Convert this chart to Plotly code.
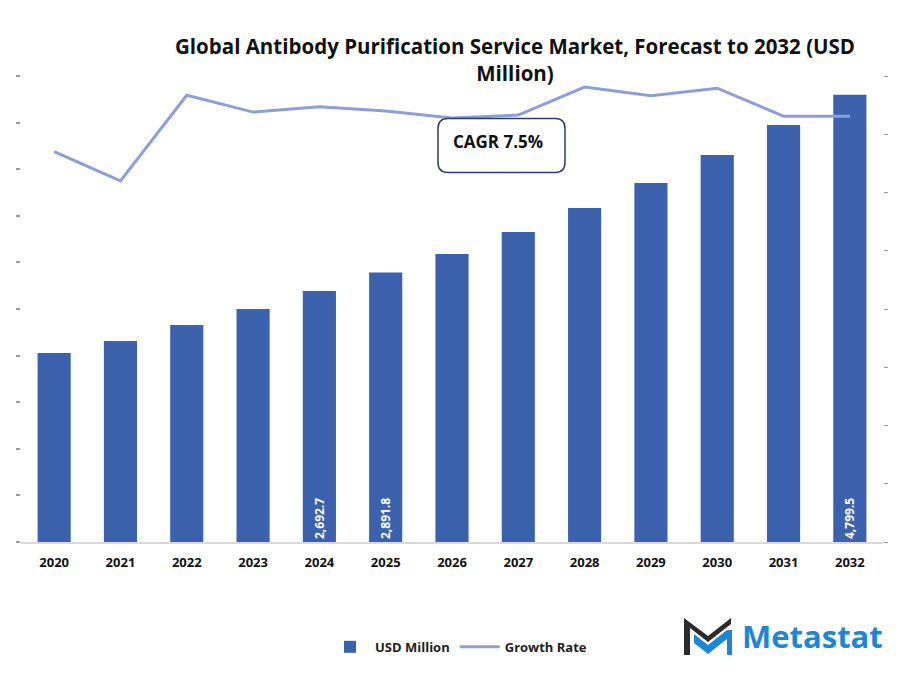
import plotly.graph_objects as go

years = ["2020", "2021", "2022", "2023", "2024", "2025", "2026", "2027", "2028", "2029", "2030", "2031", "2032"]
usd_million = [2028, 2157, 2328, 2500, 2692.7, 2891.8, 3090, 3326, 3584, 3852, 4153, 4474, 4799.5]
growth_rate = [0.0670, 0.0620, 0.0767, 0.0738, 0.0747, 0.0740, 0.0728, 0.0733, 0.0781, 0.0766, 0.0779, 0.0731, 0.0731]
label_years = ["2024", "2025", "2032"]

bar_text = [f"<b>{v:,.1f}</b>" if y in label_years else "" for y, v in zip(years, usd_million)]

W, H = 901, 682
L, R, T, B = 21, 18, 75.5, 140
pw, ph = W - L - R, H - T - B

def px(x):
    return (x - L) / pw

def py(y):
    return (H - B - y) / ph

fig = go.Figure()
fig.add_trace(go.Bar(
    x=years, y=usd_million, name="USD Million",
    marker=dict(color="#3c62ad", line=dict(width=0)),
    text=bar_text, textposition="inside", insidetextanchor="start",
    textangle=-90, textfont=dict(color="white", size=12, family="Open Sans"),
    width=0.5,
))
fig.add_trace(go.Scatter(
    x=years, y=growth_rate, name="Growth Rate", yaxis="y2",
    mode="lines", line=dict(color="#8e9fd8", width=3),
))

def rounded_rect(x0, y0, x1, y1, r):
    pts = f"M {px(x0+r)},{py(y0)} L {px(x1-r)},{py(y0)} Q {px(x1)},{py(y0)} {px(x1)},{py(y0+r)} " \
          f"L {px(x1)},{py(y1-r)} Q {px(x1)},{py(y1)} {px(x1-r)},{py(y1)} " \
          f"L {px(x0+r)},{py(y1)} Q {px(x0)},{py(y1)} {px(x0)},{py(y1-r)} " \
          f"L {px(x0)},{py(y0+r)} Q {px(x0)},{py(y0)} {px(x0+r)},{py(y0)} Z"
    return pts

shapes = [
    dict(type="path", xref="paper", yref="paper", path=rounded_rect(438, 118, 565, 172, 10),
         line=dict(color="#2e3d6b", width=1.5), fillcolor="white", layer="above"),
    dict(type="path", xref="paper", yref="paper",
         path=f"M {px(684)},{py(655)} L {px(684)},{py(618)} L {px(708)},{py(636)} L {px(731)},{py(618)} "
              f"L {px(731)},{py(624)} L {px(708)},{py(642)} L {px(690)},{py(628)} L {px(690)},{py(655)} Z",
         line=dict(width=0), fillcolor="#2b2b2b", layer="above"),
    dict(type="path", xref="paper", yref="paper",
         path=f"M {px(694)},{py(634)} L {px(708)},{py(645)} L {px(727)},{py(630)} L {px(732)},{py(630)} "
              f"L {px(732)},{py(655)} L {px(727)},{py(655)} L {px(727)},{py(639)} L {px(708)},{py(654)} L {px(694)},{py(643)} Z",
         line=dict(width=0), fillcolor="#1f86d3", layer="above"),
]

annotations = [
    dict(text="Global Antibody Purification Service Market, Forecast to 2032 (USD<br>Million)",
         x=px(515), y=py(59), xref="paper", yref="paper", showarrow=False,
         font=dict(family="Open Sans", size=20.5, color="#111111", weight="bold"),
         xanchor="center", yanchor="middle", align="center"),
    dict(text="<b>CAGR 7.5%</b>", x=px(498), y=py(141), xref="paper", yref="paper", showarrow=False,
         font=dict(family="Open Sans", size=17, color="#111111"), xanchor="center", yanchor="middle"),
    dict(text="<b>Metastat</b>", x=px(740), y=py(636), xref="paper", yref="paper", showarrow=False,
         font=dict(family="Open Sans", size=31, color="#1f86d3"), xanchor="left", yanchor="middle"),
]

fig.update_layout(
    width=W, height=H,
    margin=dict(l=L, r=R, t=T, b=B, pad=0),
    paper_bgcolor="white", plot_bgcolor="white",
    bargap=0.5,
    showlegend=True,
    legend=dict(orientation="h", x=px(325), y=py(647), xanchor="left", yanchor="middle",
                font=dict(family="Open Sans", size=13, color="#222222", weight="bold"),
                traceorder="normal", itemwidth=40),
    xaxis=dict(type="category", showgrid=False, showline=True, linecolor="#d9d9d9", linewidth=1.5,
               ticks="", tickfont=dict(family="Open Sans", size=13, color="#111111", weight="bold"),
               ticklabelstandoff=8),
    yaxis=dict(range=[0, 5000], dtick=500, showgrid=False, showticklabels=False, ticks="outside",
               ticklen=4, tickcolor="#9a9a9a", tickwidth=1.5, zeroline=False, showline=False),
    yaxis2=dict(range=[0, 0.08], dtick=0.01, overlaying="y", side="right", showgrid=False,
                showticklabels=False, ticks="outside", ticklen=4, tickcolor="#9a9a9a", tickwidth=1,
                zeroline=False, showline=False),
    shapes=shapes, annotations=annotations,
)

fig.write_html("out.html")
